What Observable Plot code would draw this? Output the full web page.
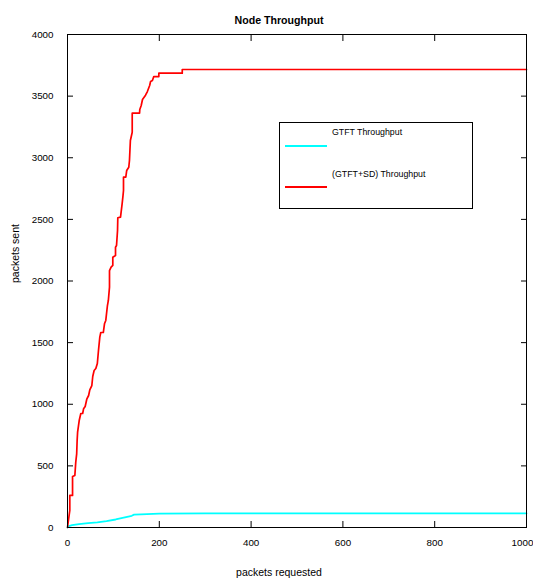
<!DOCTYPE html>
<html>
<head>
<meta charset="utf-8">
<script src="https://cdn.jsdelivr.net/npm/d3@7"></script>
<script src="https://cdn.jsdelivr.net/npm/@observablehq/plot@0.6"></script>
<style>
  html, body { margin: 0; padding: 0; background: #fff; }
  #wrap { position: relative; width: 533px; height: 583px; font-family: "Liberation Sans", Arial, sans-serif; }
  #legend { position: absolute; left: 279px; top: 122px; width: 194px; height: 87px; border: 1px solid #000; background: #fff; box-sizing: border-box; }
  .lg-text { position: absolute; left: 52px; font-size: 8.8px; color: #000; white-space: nowrap; line-height: 1; }
  .lg-line { position: absolute; left: 5px; width: 42px; height: 2px; }
</style>
</head>
<body>
<div id="wrap">
  <div id="chart"></div>
  <div id="legend">
    <div class="lg-text" style="top:5px">GTFT Throughput</div>
    <div class="lg-line" style="top:21.5px;background:#00ffff"></div>
    <div class="lg-text" style="top:47px">(GTFT+SD) Throughput</div>
    <div class="lg-line" style="top:63px;background:#ff0000"></div>
  </div>
</div>
<script>
// Series: GTFT Throughput (cyan)
const gtftX = [0, 3, 10, 25, 45, 65, 85, 105, 125, 140, 145, 160, 200, 300, 1000];
const gtftY = [0, 12, 20, 28, 36, 42, 52, 65, 82, 95, 104, 107, 112, 114, 115];

// Series: (GTFT+SD) Throughput (red)
const sdX = [0, 1.5, 5, 5, 11, 11, 16, 18, 20, 21, 22, 25.5, 29, 33, 35, 38.5, 42, 46, 48.6, 53, 55, 58, 61.7, 65, 67.5, 70.4, 72.5, 78, 80.6, 83.4, 87, 89, 91.5, 91.5, 95, 98.7, 98.7, 104.6, 104.6, 106.8, 109, 109.6, 115.5, 119, 121, 122, 122, 127, 129, 133.5, 135, 137, 141, 141, 157, 157.5, 160.6, 163.4, 170, 174, 179, 181, 185, 188, 199, 199, 250, 250, 1000];
const sdY = [0, 43, 138, 260, 260, 414, 422, 530, 598, 706, 773, 868, 925, 925, 963, 982, 1041, 1071, 1117, 1152, 1225, 1274, 1290, 1331, 1436, 1544, 1582, 1582, 1653, 1680, 1801, 1842, 1950, 2085, 2112, 2126, 2193, 2207, 2274, 2288, 2410, 2513, 2518, 2626, 2694, 2734, 2842, 2842, 2897, 2923, 2978, 3140, 3207, 3362, 3362, 3391, 3424, 3473, 3508, 3537, 3586, 3619, 3627, 3659, 3659, 3686, 3686, 3716, 3716];

const xTicks = [0, 200, 400, 600, 800, 1000];
const yTicks = [0, 500, 1000, 1500, 2000, 2500, 3000, 3500, 4000];

const title = "Node Throughput";
const xLabel = "packets requested";
const yLabel = "packets sent";

const gtft = gtftX.map((x, i) => ({x, y: gtftY[i]}));
const sd = sdX.map((x, i) => ({x, y: sdY[i]}));

const fmt = d => String(d);
const lastTick = xTicks[xTicks.length - 1];

const chart = Plot.plot({
  width: 533,
  height: 583,
  marginLeft: 67,
  marginRight: 7,
  marginTop: 34,
  marginBottom: 56,
  style: {fontFamily: "'Liberation Sans', Arial, sans-serif", fontSize: "9.8px", background: "#fff", color: "#000"},
  x: {domain: [0, 1000]},
  y: {domain: [0, 4000]},
  marks: [
    Plot.axisX(xTicks, {anchor: "bottom", tickSize: -6, tickPadding: 18, tickFormat: d => d === lastTick ? "" : fmt(d), label: null, stroke: "#000"}),
    Plot.axisX([lastTick], {anchor: "bottom", tickSize: 0, tickPadding: 12, tickFormat: fmt, label: null, dx: -4}),
    Plot.axisX(xTicks, {anchor: "top", tickSize: -6, tickFormat: () => "", label: null, stroke: "#000"}),
    Plot.axisY(yTicks, {anchor: "left", tickSize: -6, tickPadding: 20, tickFormat: fmt, label: null, stroke: "#000"}),
    Plot.axisY(yTicks, {anchor: "right", tickSize: -6, tickFormat: () => "", label: null, stroke: "#000"}),
    Plot.line(gtft, {x: "x", y: "y", stroke: "#00ffff", strokeWidth: 1.8}),
    Plot.line(sd, {x: "x", y: "y", stroke: "#ff0000", strokeWidth: 1.7}),
    Plot.frame({stroke: "#000", strokeWidth: 1}),
    Plot.text([title], {frameAnchor: "top", dy: -18, dx: -18, fontWeight: "bold", fontSize: 10.6}),
    Plot.text([xLabel], {frameAnchor: "bottom", dy: 48, dx: -18, fontSize: 10.5}),
    Plot.text([yLabel], {frameAnchor: "left", dx: -52, dy: 2, rotate: -90, fontSize: 10.5})
  ]
});
document.getElementById("chart").appendChild(chart);
</script>
</body>
</html>
